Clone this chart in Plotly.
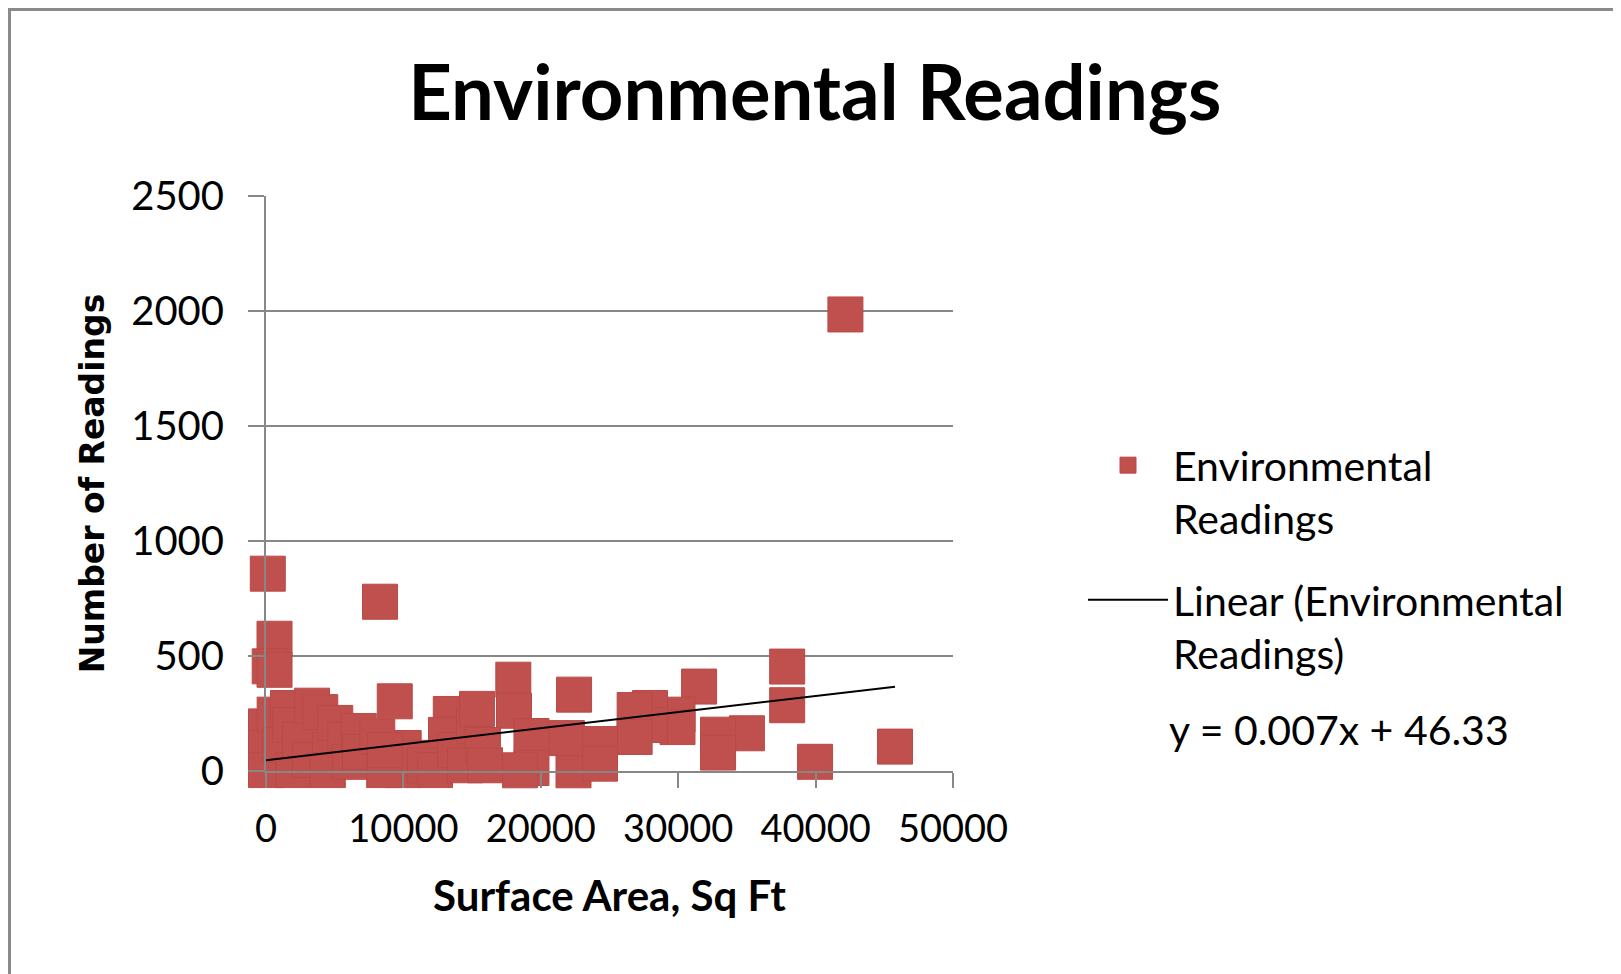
import plotly.graph_objects as go

# Surface area (sq ft) and number of readings
surface_area = [
    130, 8300, 620, 270, 620, 42170, 45780, 39960, 37930, 37930,
    35000, 32900, 32900, 31520, 29950, 29950, 27950, 27950, 26830, 26830,
    22420, 18000, 18050, 19320, 19320, 22380, 21900, 24310, 24310, 18490,
    13450, 13100, 9370, 10020, 10000, 10630, 11570, 12300, 13760, 14480,
    15140, 15360, 15790, 15940, 0, 0, 0, 630, 1600, 1020,
    1750, 2000, 2470, 3350, 3950, 3200, 4660, 4500, 5040, 5770,
    6110, 6750, 6840, 8100, 8600, 8660,
]
readings = [
    858, 736, 575, 455, 440, 1985, 106, 40, 454, 286,
    164, 158, 80, 367, 245, 191, 274, 200, 265, 148,
    332, 397, 262, 152, 13, 3, 143, 117, 32, 3,
    248, 157, 303, 100, 4, 57, 25, 4, 91, 25,
    194, 270, 113, 25, 194, 100, 4, 245, 274, 113,
    200, 4, 135, 284, 256, 48, 91, 4, 209, 136,
    40, 174, 83, 150, 4, 91,
]

# Excel linear trendline as printed on the chart
slope = 0.007
intercept = 46.33

x_ticks = [0, 10000, 20000, 30000, 40000, 50000]
y_ticks = [0, 500, 1000, 1500, 2000, 2500]

red = "#C0504D"
grey = "#878787"

trend_x = [min(surface_area), max(surface_area)]
trend_y = [slope * v + intercept for v in trend_x]

fig = go.Figure()
fig.add_trace(go.Scatter(
    x=surface_area, y=readings,
    mode="markers",
    name="Environmental<br>Readings",
    legendgroup="a",
    cliponaxis=False,
    marker=dict(symbol="square", size=35, color=red,
                line=dict(color="#B94A47", width=1)),
))
fig.add_trace(go.Scatter(
    x=trend_x, y=trend_y,
    mode="lines",
    name="Linear (Environmental<br>Readings)",
    legendgroup="b",
    cliponaxis=False,
    line=dict(color="black", width=2),
))

# plot area in figure pixels (figure is 1621 x 974)
L, R, T, B = 258, 945, 188, 763
W, H = R - L, B - T


def fx(xp):
    return (xp - L) / W


def fy(yp):
    return (B - yp) / H


fig.update_layout(
    width=1621, height=974,
    margin=dict(l=L, r=1621 - R, t=T, b=974 - B),
    paper_bgcolor="white", plot_bgcolor="white",
    font=dict(family="Lato", color="black"),
    title=dict(text="Environmental Readings",
               font=dict(family="Lato", size=76, weight="bold", color="black"),
               x=0.4977, xanchor="center", xref="container",
               y=1 - 85 / 974, yanchor="middle", yref="container"),
    xaxis=dict(
        range=[0, 50000], tickvals=x_ticks, ticktext=[str(v) for v in x_ticks],
        showgrid=False, zeroline=False,
        showline=True, linecolor=grey, linewidth=2,
        ticks="outside", ticklen=15, tickwidth=2, tickcolor=grey,
        tickfont=dict(family="Lato", size=38, color="black"),
        ticklabelstandoff=8,
        title=dict(text="Surface Area, Sq Ft", standoff=33,
                   font=dict(family="Lato", size=42, weight="bold", color="black")),
    ),
    yaxis=dict(
        range=[0, 2500], tickvals=y_ticks, ticktext=[str(v) for v in y_ticks],
        showgrid=True, gridcolor=grey, gridwidth=2, zeroline=False,
        showline=True, linecolor=grey, linewidth=2,
        ticks="outside", ticklen=16, tickwidth=2, tickcolor=grey,
        tickfont=dict(family="Lato", size=40, color="black"),
        ticklabelstandoff=16,
        title=dict(text="Number of Readings", standoff=17,
                   font=dict(family="DejaVu Sans", size=33, weight="bold", color="black")),
    ),
    showlegend=True,
    legend=dict(
        x=fx(1075), xanchor="left", y=fy(424), yanchor="top",
        font=dict(family="Lato", size=41, color="black"),
        itemwidth=80, valign="top",
        traceorder="grouped", tracegroupgap=25,
        bgcolor="rgba(0,0,0,0)",
    ),
    annotations=[dict(
        text=f"y = {slope}x + {intercept}",
        xref="paper", yref="paper", x=fx(1159), y=fy(721),
        xanchor="left", yanchor="middle", showarrow=False,
        font=dict(family="Lato", size=41, color="black"),
    )],
    shapes=[dict(
        type="rect", xref="paper", yref="paper",
        x0=fx(1.5), x1=fx(1700), y0=fy(1100), y1=fy(1.5),
        line=dict(color="#8a8a8a", width=3), layer="below",
    )],
)

fig.write_html("out.html")
